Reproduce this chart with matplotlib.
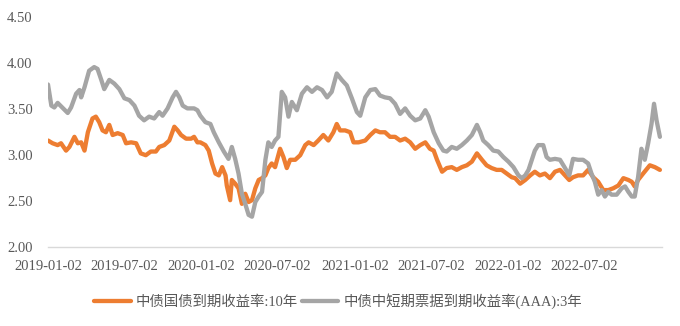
import matplotlib
matplotlib.use("Agg")
import matplotlib.pyplot as plt
import pandas as pd

# ---------------- data ----------------
gov10_dates = [
    "2019-01-02", "2019-01-13", "2019-01-25", "2019-02-02", "2019-02-14", "2019-02-22",
    "2019-03-06", "2019-03-14", "2019-03-22", "2019-03-30", "2019-04-07", "2019-04-18",
    "2019-04-26", "2019-05-04", "2019-05-12", "2019-05-20", "2019-05-28", "2019-06-05",
    "2019-06-17", "2019-06-29", "2019-07-07", "2019-07-19", "2019-07-31", "2019-08-11",
    "2019-08-23", "2019-09-04", "2019-09-16", "2019-09-24", "2019-10-06", "2019-10-18",
    "2019-10-30", "2019-11-07", "2019-11-15", "2019-11-27", "2019-12-09", "2019-12-16",
    "2019-12-24", "2019-12-31", "2020-01-12", "2020-01-20", "2020-01-28", "2020-02-05",
    "2020-02-13", "2020-02-21", "2020-02-29", "2020-03-03", "2020-03-11", "2020-03-15",
    "2020-03-23", "2020-03-31", "2020-04-08", "2020-04-16", "2020-04-24", "2020-05-02",
    "2020-05-10", "2020-05-18", "2020-05-26", "2020-06-03", "2020-06-10", "2020-06-18",
    "2020-06-26", "2020-07-08", "2020-07-16", "2020-07-24", "2020-08-01", "2020-08-13",
    "2020-08-25", "2020-09-06", "2020-09-14", "2020-09-26", "2020-10-07", "2020-10-19",
    "2020-10-31", "2020-11-12", "2020-11-20", "2020-11-28", "2020-12-10", "2020-12-22",
    "2020-12-30", "2021-01-11", "2021-01-27", "2021-02-08", "2021-02-20", "2021-03-03",
    "2021-03-15", "2021-03-27", "2021-04-08", "2021-04-20", "2021-05-02", "2021-05-14",
    "2021-05-26", "2021-06-07", "2021-06-19", "2021-06-30", "2021-07-09", "2021-07-17",
    "2021-07-29", "2021-08-09", "2021-08-21", "2021-09-02", "2021-09-14", "2021-09-26",
    "2021-10-08", "2021-10-20", "2021-11-01", "2021-11-12", "2021-11-24", "2021-12-06",
    "2021-12-18", "2021-12-30", "2022-01-11", "2022-01-19", "2022-01-31", "2022-02-12",
    "2022-02-24", "2022-03-07", "2022-03-19", "2022-03-31", "2022-04-12", "2022-04-24",
    "2022-05-06", "2022-05-18", "2022-05-28", "2022-06-06", "2022-06-18", "2022-06-30",
    "2022-07-12", "2022-07-24", "2022-08-05", "2022-08-17", "2022-08-29", "2022-09-10",
    "2022-09-22", "2022-10-04", "2022-10-16", "2022-10-24", "2022-10-31", "2022-11-08",
    "2022-11-20", "2022-12-06", "2022-12-18", "2022-12-30",
]
gov10_values = [
    3.16, 3.13, 3.11, 3.13, 3.05, 3.09,
    3.20, 3.13, 3.14, 3.05, 3.25, 3.40,
    3.42, 3.36, 3.27, 3.25, 3.33, 3.22,
    3.24, 3.22, 3.13, 3.14, 3.13, 3.02,
    3.00, 3.04, 3.04, 3.09, 3.11, 3.16,
    3.31, 3.27, 3.22, 3.18, 3.18, 3.20,
    3.14, 3.14, 3.11, 3.05, 2.91, 2.80,
    2.78, 2.87, 2.78, 2.67, 2.51, 2.73,
    2.69, 2.64, 2.47, 2.58, 2.49, 2.51,
    2.64, 2.73, 2.75, 2.78, 2.86, 2.91,
    2.87, 3.07, 2.98, 2.86, 2.95, 2.95,
    3.00, 3.11, 3.14, 3.11, 3.16, 3.22,
    3.16, 3.25, 3.34, 3.27, 3.27, 3.25,
    3.14, 3.14, 3.16, 3.22, 3.27, 3.25,
    3.25, 3.20, 3.20, 3.16, 3.18, 3.14,
    3.07, 3.11, 3.14, 3.07, 3.05, 2.95,
    2.82, 2.86, 2.87, 2.84, 2.87, 2.89,
    2.93, 3.02, 2.95, 2.89, 2.86, 2.84,
    2.84, 2.80, 2.76, 2.75, 2.69, 2.73,
    2.78, 2.82, 2.78, 2.80, 2.75, 2.82,
    2.84, 2.78, 2.73, 2.76, 2.78, 2.78,
    2.84, 2.76, 2.71, 2.62, 2.62, 2.64,
    2.67, 2.75, 2.73, 2.71, 2.66, 2.73,
    2.80, 2.89, 2.87, 2.84,
]

mtn3_dates = [
    "2019-01-02", "2019-01-10", "2019-01-17", "2019-01-25", "2019-02-05", "2019-02-18",
    "2019-02-26", "2019-03-10", "2019-03-18", "2019-03-22", "2019-03-30", "2019-04-10",
    "2019-04-22", "2019-04-30", "2019-05-09", "2019-05-16", "2019-05-28", "2019-06-09",
    "2019-06-21", "2019-07-03", "2019-07-15", "2019-07-27", "2019-08-07", "2019-08-19",
    "2019-08-31", "2019-09-12", "2019-09-24", "2019-10-02", "2019-10-14", "2019-10-26",
    "2019-11-03", "2019-11-11", "2019-11-19", "2019-11-30", "2019-12-16", "2019-12-24",
    "2019-12-31", "2020-01-12", "2020-01-24", "2020-02-01", "2020-02-13", "2020-02-25",
    "2020-03-07", "2020-03-15", "2020-03-23", "2020-03-31", "2020-04-08", "2020-04-16",
    "2020-04-24", "2020-05-02", "2020-05-10", "2020-05-18", "2020-05-26", "2020-06-03",
    "2020-06-10", "2020-06-18", "2020-06-26", "2020-07-04", "2020-07-12", "2020-07-20",
    "2020-07-28", "2020-08-05", "2020-08-17", "2020-08-29", "2020-09-10", "2020-09-22",
    "2020-10-04", "2020-10-16", "2020-10-28", "2020-11-08", "2020-11-20", "2020-12-02",
    "2020-12-14", "2020-12-26", "2021-01-07", "2021-01-15", "2021-01-27", "2021-02-08",
    "2021-02-20", "2021-03-03", "2021-03-15", "2021-03-27", "2021-04-08", "2021-04-20",
    "2021-05-02", "2021-05-14", "2021-05-26", "2021-06-07", "2021-06-19", "2021-06-27",
    "2021-07-09", "2021-07-21", "2021-08-01", "2021-08-09", "2021-08-21", "2021-09-02",
    "2021-09-14", "2021-09-26", "2021-10-08", "2021-10-20", "2021-10-28", "2021-11-04",
    "2021-11-16", "2021-11-28", "2021-12-10", "2021-12-22", "2022-01-03", "2022-01-15",
    "2022-01-27", "2022-02-04", "2022-02-12", "2022-02-20", "2022-02-28", "2022-03-07",
    "2022-03-15", "2022-03-27", "2022-04-04", "2022-04-12", "2022-04-24", "2022-05-06",
    "2022-05-18", "2022-05-28", "2022-06-06", "2022-06-18", "2022-06-30", "2022-07-12",
    "2022-07-20", "2022-07-28", "2022-08-05", "2022-08-13", "2022-08-21", "2022-08-29",
    "2022-09-06", "2022-09-18", "2022-09-30", "2022-10-08", "2022-10-16", "2022-10-24",
    "2022-10-31", "2022-11-08", "2022-11-16", "2022-11-24", "2022-12-02", "2022-12-10",
    "2022-12-16", "2022-12-22", "2022-12-30",
]
mtn3_values = [
    3.77, 3.54, 3.52, 3.57, 3.52, 3.46,
    3.52, 3.67, 3.71, 3.63, 3.74, 3.92,
    3.96, 3.94, 3.82, 3.72, 3.82, 3.78,
    3.72, 3.62, 3.60, 3.54, 3.43, 3.38,
    3.42, 3.40, 3.47, 3.43, 3.51, 3.63,
    3.69, 3.63, 3.54, 3.51, 3.51, 3.49,
    3.43, 3.36, 3.34, 3.25, 3.14, 3.04,
    2.96, 3.09, 2.96, 2.80, 2.58, 2.47,
    2.35, 2.33, 2.49, 2.55, 2.60, 2.95,
    3.14, 3.09, 3.16, 3.20, 3.69, 3.63,
    3.42, 3.58, 3.49, 3.67, 3.74, 3.69,
    3.74, 3.71, 3.63, 3.69, 3.89, 3.82,
    3.76, 3.62, 3.47, 3.43, 3.63, 3.71,
    3.72, 3.65, 3.63, 3.62, 3.56, 3.45,
    3.51, 3.43, 3.38, 3.40, 3.49, 3.42,
    3.25, 3.13, 3.05, 3.04, 3.09, 3.07,
    3.11, 3.16, 3.22, 3.33, 3.25, 3.16,
    3.11, 3.05, 3.04, 2.98, 2.93, 2.87,
    2.78, 2.75, 2.78, 2.84, 2.95, 3.05,
    3.11, 3.11, 2.98, 2.95, 2.96, 2.95,
    2.86, 2.78, 2.96, 2.95, 2.95, 2.91,
    2.80, 2.71, 2.57, 2.62, 2.55, 2.60,
    2.57, 2.57, 2.64, 2.66, 2.60, 2.55,
    2.55, 2.76, 3.07, 2.95, 3.13, 3.34,
    3.56, 3.38, 3.20,
]

x_tick_labels = ["2019-01-02", "2019-07-02", "2020-01-02", "2020-07-02",
                 "2021-01-02", "2021-07-02", "2022-01-02", "2022-07-02"]
y_ticks = [2.00, 2.50, 3.00, 3.50, 4.00, 4.50]
series_names = ["中债国债到期收益率:10年", "中债中短期票据到期收益率(AAA):3年"]

# ---------------- plot ----------------
SERIF_CJK = ["Liberation Serif", "Noto Sans CJK SC"]
TXT = "#595959"

fig = plt.figure(figsize=(6.8, 3.26), dpi=100)
ax = fig.add_axes([48 / 680, 1 - 247 / 326, (662 - 48) / 680, (247 - 17.5) / 326])

d1 = pd.to_datetime(gov10_dates)
d2 = pd.to_datetime(mtn3_dates)
ax.plot(d1, gov10_values, color="#ED7D31", lw=3.1, solid_joinstyle="round",
        solid_capstyle="round", label=series_names[0], zorder=3)
ax.plot(d2, mtn3_values, color="#A5A5A5", lw=3.1, solid_joinstyle="round",
        solid_capstyle="round", label=series_names[1], zorder=4)

ax.set_ylim(2.0, 4.5)
ax.set_yticks(y_ticks)
ax.set_yticklabels([f"{v:.2f}" for v in y_ticks])
ax.set_xlim(pd.Timestamp("2019-01-02"), pd.Timestamp("2023-01-04"))
ax.set_xticks(pd.to_datetime(x_tick_labels))
ax.set_xticklabels(x_tick_labels)

for s in ["top", "right", "left"]:
    ax.spines[s].set_visible(False)
ax.spines["bottom"].set_color("#D9D9D9")
ax.spines["bottom"].set_linewidth(1.0)
ax.tick_params(axis="both", length=0, colors=TXT)
ax.tick_params(axis="x", pad=9)
ax.tick_params(axis="y", pad=11)
for lab in ax.get_xticklabels() + ax.get_yticklabels():
    lab.set_fontfamily(SERIF_CJK)
    lab.set_fontsize(10.5)
    lab.set_color(TXT)

leg = fig.legend(loc="center", bbox_to_anchor=(338 / 680, 1 - 301 / 326), ncol=2,
                 frameon=False, handlelength=2.55, handletextpad=0.35,
                 columnspacing=0.25, prop={"family": SERIF_CJK, "size": 10.4})
for t in leg.get_texts():
    t.set_color(TXT)

fig.savefig("out.png", dpi=100)
